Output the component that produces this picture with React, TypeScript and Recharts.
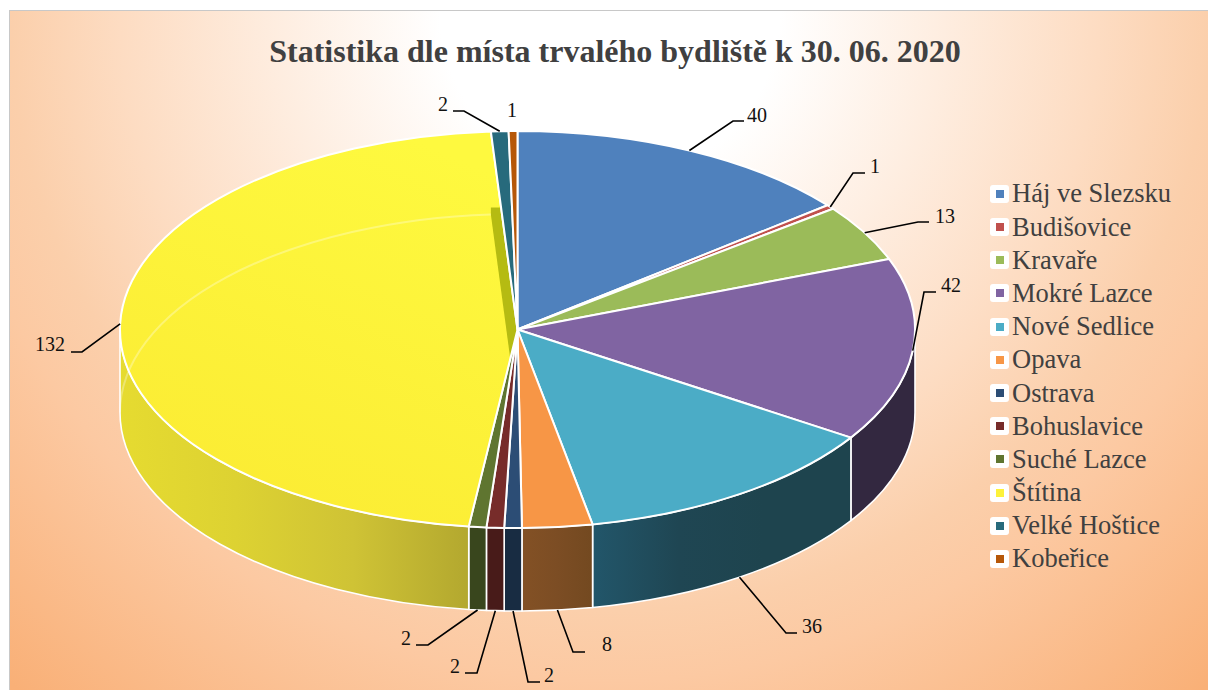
import { PieChart, Pie, Legend } from 'recharts'

const NAMES = ['Háj ve Slezsku', 'Budišovice', 'Kravaře', 'Mokré Lazce', 'Nové Sedlice', 'Opava', 'Ostrava', 'Bohuslavice', 'Suché Lazce', 'Štítina', 'Velké Hoštice', 'Kobeřice']
const VALUES = [40, 1, 13, 42, 36, 8, 2, 2, 2, 132, 2, 1]
const TOP_COLORS = ['#4f81bd', '#c0504d', '#9bbb59', '#8064a2', '#4bacc6', '#f79646', '#2c4d75', '#772c2a', '#5f7530', '#fdf23a', '#276a7c', '#b65708']
const WALL_COLORS = [
  ['#2f4d71', '#2f4d71'],
  ['#73302e', '#73302e'],
  ['#5d7035', '#5d7035'],
  ['#332840', '#332840'],
  ['#22566a', '#1f4653', '#1e444e', '#1e444e'],
  ['#835125', '#7c4d24', '#734920'],
  ['#182c42', '#182c42'],
  ['#481b19', '#481b19'],
  ['#39461d', '#39461d'],
  ['#e6db30', '#ddd232', '#cfc335', '#b3a82f'],
  ['#173f4a', '#173f4a'],
  ['#6d3405', '#6d3405'],
]

// where the leader lines bend and where the numbers sit
const LABEL_SPOTS = [
  { elbow: [733, 121], tail: [744, 121], text: [757, 115] },
  { elbow: [853, 173], tail: [865, 173], text: [875, 166] },
  { elbow: [918, 222], tail: [929, 222], text: [945, 216] },
  { elbow: [924, 292], tail: [936, 292], text: [951, 285] },
  { elbow: [786, 633], tail: [797, 633], text: [812, 626] },
  { elbow: [573, 652], tail: [585, 652], text: [607, 644] },
  { elbow: [528, 682], tail: [540, 682], text: [549, 675] },
  { elbow: [477, 673], tail: [465, 673], text: [455, 666] },
  { elbow: [428, 645], tail: [416, 645], text: [406, 638] },
  { elbow: [82, 352], tail: [71, 352], text: [50, 344] },
  { elbow: [464, 111], tail: [453, 111], text: [443, 104] },
  { elbow: null, tail: null, text: [512, 110] },
]

const tableData = NAMES.map((name, i) => ({ name, value: VALUES[i], fill: TOP_COLORS[i] }))

const FONT = '"Liberation Serif", serif'
const SQUASH = 0.4994
const DEPTH = 83
const RAD = Math.PI / 180

const rimPoint = (cx: number, cy: number, r: number, angle: number, drop = 0) => [
  cx + r * Math.cos(angle * RAD),
  cy - r * SQUASH * Math.sin(angle * RAD) + drop,
]

function topPath(p: any) {
  const { cx, cy, outerRadius: r, startAngle, endAngle } = p
  const [x1, y1] = rimPoint(cx, cy, r, startAngle)
  const [x2, y2] = rimPoint(cx, cy, r, endAngle)
  const large = Math.abs(startAngle - endAngle) > 180 ? 1 : 0
  return `M${cx},${cy}L${x1},${y1}A${r},${r * SQUASH} 0 ${large} 1 ${x2},${y2}Z`
}

function TopFace(p: any) {
  const { cx, cy, outerRadius: r, startAngle, endAngle, fill, index } = p
  const big = Math.abs(startAngle - endAngle) > 150
  if (!big) return <path d={topPath(p)} fill={fill} stroke="#fff" strokeWidth={2} strokeLinejoin="round" />

  // the big slice is see-through in the original: inner cut face and back rim show up
  const [rx, ry] = rimPoint(cx, cy, r, endAngle)
  const sliverTop = ry + 76
  const t = (sliverTop - ry) / (cy - ry)
  const cutX = rx + (cx - rx) * t
  const [ex, ey] = rimPoint(cx, cy, r, endAngle, DEPTH)
  const [lx, ly] = rimPoint(cx, cy, r, 180, DEPTH)
  return (
    <g>
      <defs>
        <linearGradient id="topBig" x1="0.7" y1="0" x2="0.25" y2="1">
          <stop offset="0" stopColor="#fef93f" />
          <stop offset="1" stopColor="#fbeb33" />
        </linearGradient>
        <clipPath id={`clip-${index}`}>
          <path d={topPath(p)} />
        </clipPath>
      </defs>
      <path d={topPath(p)} fill="url(#topBig)" />
      <path
        d={`M${rx},${sliverTop}L${cutX},${sliverTop}L${cx},${cy}L${cx},${cy + DEPTH}L${ex},${ey}Z`}
        fill="#b5bb12"
        clipPath={`url(#clip-${index})`}
      />
      <path d={`M${lx},${ly}A${r},${r * SQUASH} 0 0 1 ${ex},${ey}`} fill="none" stroke="#fff" strokeOpacity={0.3} strokeWidth={2} />
      <path d={topPath(p)} fill="none" stroke="#fff" strokeWidth={2} strokeLinejoin="round" />
    </g>
  )
}

function WallFace(p: any) {
  const { cx, cy, outerRadius: r, startAngle, endAngle, index } = p
  // only the front half of the rim has a visible wall
  let hi = Math.max(startAngle, endAngle)
  let lo = Math.min(startAngle, endAngle)
  hi = Math.min(hi, 0)
  lo = Math.max(lo, -180)
  if (hi <= lo) return <g />
  const [x1, y1] = rimPoint(cx, cy, r, hi)
  const [x2, y2] = rimPoint(cx, cy, r, lo)
  const ry = r * SQUASH
  const stops = WALL_COLORS[index]
  const id = `wall-${index}`
  return (
    <g>
      <defs>
        <linearGradient id={id} x1="0" y1="0" x2="1" y2="0">
          {stops.map((c, i) => (
            <stop key={i} offset={i / (stops.length - 1)} stopColor={c} />
          ))}
        </linearGradient>
      </defs>
      <path
        d={`M${x1},${y1}A${r},${ry} 0 0 1 ${x2},${y2}L${x2},${y2 + DEPTH}A${r},${ry} 0 0 0 ${x1},${y1 + DEPTH}Z`}
        fill={`url(#${id})`}
        stroke="#fff"
        strokeWidth={1.6}
        strokeLinejoin="round"
      />
    </g>
  )
}

function ValueLabel(p: any) {
  const { cx, cy, outerRadius: r, midAngle, index, value } = p
  const spot = LABEL_SPOTS[index]
  const s = Math.sin(midAngle * RAD)
  const [ax, ay] = rimPoint(cx, cy, r, midAngle, s < -0.2 ? DEPTH : 0)
  return (
    <g>
      {spot.elbow && (
        <polyline
          points={`${ax},${ay} ${spot.elbow[0]},${spot.elbow[1]} ${spot.tail[0]},${spot.tail[1]}`}
          fill="none"
          stroke="#000"
          strokeWidth={1.6}
        />
      )}
      <text x={spot.text[0]} y={spot.text[1]} textAnchor="middle" dominantBaseline="central" fontFamily={FONT} fontSize={20} fill="#111">
        {value}
      </text>
    </g>
  )
}

function LegendBox({ payload }: any) {
  // the wall pie also feeds the legend, so take each name once and in the data order
  const items = NAMES.map((name) => (payload || []).find((it: any) => it.value === name)).filter(Boolean)
  return (
    <div>
      {items.map((item: any) => (
        <div key={item.value} style={{ height: 33.18, display: 'flex', alignItems: 'center' }}>
          <span style={{ width: 19, height: 18, background: '#fff', borderRadius: 3, display: 'flex', alignItems: 'center', justifyContent: 'center', flex: 'none' }}>
            <span style={{ width: 8, height: 8, background: item.color, display: 'block' }} />
          </span>
          <span style={{ marginLeft: 3, fontFamily: FONT, fontSize: 26.5, color: '#404040', whiteSpace: 'nowrap', lineHeight: '33px' }}>{item.value}</span>
        </div>
      ))}
    </div>
  )
}

export default function App() {
  return (
    <div style={{ position: 'absolute', left: 0, top: 0, width: 1208, height: 690, background: '#fff', overflow: 'hidden' }}>
      <div
        style={{
          position: 'absolute',
          left: 9,
          top: 10,
          right: 0,
          bottom: 0,
          borderLeft: '1.5px solid #c8c8c8',
          borderTop: '1.5px solid #c8c8c8',
          background: 'radial-gradient(circle 950px at 600px 0px, #fff 0, #fff 170px, #fddcc2 490px, #fbcfab 600px, #fcc9a2 670px, #f9b077 900px)',
        }}
      />
      <PieChart width={1208} height={690} margin={{ top: 0, right: 0, bottom: 0, left: 0 }} style={{ position: 'absolute', left: 0, top: 0 }}>
        <text x={615} y={51} textAnchor="middle" dominantBaseline="central" fontFamily={FONT} fontWeight="bold" fontSize={32} fill="#404040">
          Statistika dle místa trvalého bydliště k 30. 06. 2020
        </text>
        <Pie
          data={tableData}
          dataKey="value"
          nameKey="name"
          cx={517.5}
          cy={329.5}
          outerRadius={397.5}
          startAngle={90}
          endAngle={-270}
          legendType="none"
          shape={WallFace}
          isAnimationActive={false}
        />
        <Pie
          data={tableData}
          dataKey="value"
          nameKey="name"
          cx={517.5}
          cy={329.5}
          outerRadius={397.5}
          startAngle={90}
          endAngle={-270}
          shape={TopFace}
          label={ValueLabel}
          labelLine={false}
          isAnimationActive={false}
        />
        <Legend
          layout="vertical"
          align="right"
          verticalAlign="middle"
          itemSorter={null}
          content={LegendBox}
          wrapperStyle={{ left: 990, top: 177.4, right: 'auto', bottom: 'auto', width: 215 }}
        />
      </PieChart>
    </div>
  )
}
